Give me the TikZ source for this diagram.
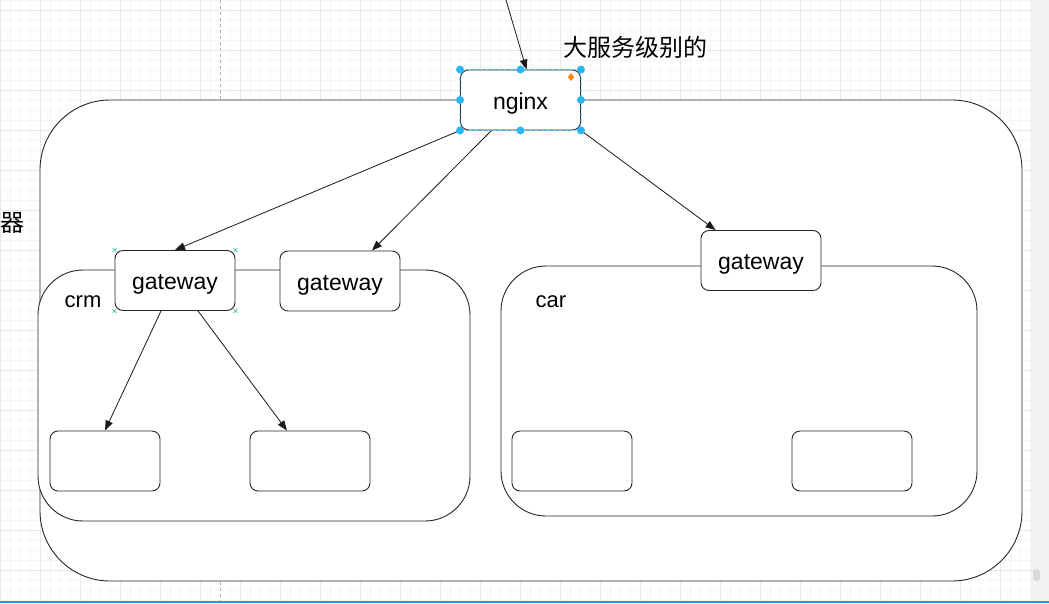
\documentclass[tikz,border=0pt]{standalone}
\usepackage{fontspec}
\setmainfont{Liberation Sans}
\newfontfamily\cjk{Noto Sans CJK SC}
\usetikzlibrary{arrows.meta}
\definecolor{handleblue}{RGB}{41,182,242}
\definecolor{markgreen}{RGB}{60,190,170}
\definecolor{barblue}{RGB}{30,155,235}

\begin{document}
\begin{tikzpicture}[x=1pt,y=-1pt,
   gridminor/.style={draw=black!4, line width=0.6pt},
   gridmajor/.style={draw=black!9, line width=0.8pt},
   zone/.style={draw=black!85, fill=white, line width=0.9pt, inner sep=0pt},
   box/.style={draw=black!85, fill=white, line width=0.9pt, rounded corners=8pt,
      minimum width=120pt, minimum height=60pt, inner sep=0pt,
      text height=21pt, text depth=2.5pt,
      font=\fontsize{23}{26}\selectfont},
   label/.style={font=\fontsize{22}{26}\selectfont},
   link/.style={-{Triangle[length=10pt,width=7.5pt]}, line width=0.8pt, black!90}]
   %% 畫布大小 與 背景格線
   \useasboundingbox (0,0) rectangle (1049,603);
   \foreach \gx in {0,10,...,1040} \draw[gridminor] (\gx,0) -- (\gx,603);
   \foreach \gy in {0,10,...,600} \draw[gridminor] (0,\gy) -- (1049,\gy);
   \foreach \gx in {0,40,...,1040} \draw[gridmajor] (\gx,0) -- (\gx,603);
   \foreach \gy in {10,50,...,570} \draw[gridmajor] (0,\gy) -- (1049,\gy);
   \draw[black!30, dashed, line width=1pt] (220,0) -- (220,603);
   \fill[black!5] (1031,0) rectangle (1049,601);
   \fill[black!15, rounded corners=3pt] (1033,569) rectangle (1040,581);
   \fill[barblue] (0,601) rectangle (1049,603);
   
   %% 外層 大服務 與 兩個服務區塊
   \node[zone, rounded corners=70pt, minimum width=982pt, minimum height=481pt] (outer) at (531,340.5) {};
   \node[zone, rounded corners=45pt, minimum width=432pt, minimum height=251pt] (crm) at (254,395.5) {};
   \node[zone, rounded corners=45pt, minimum width=476pt, minimum height=250pt] (car) at (739,391) {};
   
   \node[box] (nginx) at (520.5,100) {nginx};
   \node[box] (crmgw) at (175,280.5) {gateway};
   \node[box] (crmgwb) at (340,281) {gateway};
   \node[box] (cargw) at (761,260.5) {gateway};
   
   \node[box, minimum width=110pt] (crmA) at (105,461) {};
   \node[box] (crmB) at (310,461) {};
   \node[box] (carA) at (572,461) {};
   \node[box] (carB) at (852,461) {};
   
   \node[label] (crmlabel) at (83,302) {crm};
   \node[label] (carlabel) at (551,302) {car};
   \node[font=\cjk\fontsize{24}{27}\selectfont] (title) at (635,47) {大服务级别的};
   \node[font=\cjk\fontsize{24}{27}\selectfont] (side) at (12,223) {器};
   
   %% 連線
   \coordinate (entry) at (506,0);
   \draw[link] (entry) -- ([xshift=6pt]nginx.north);
   \draw[link] (nginx.south west) -- (crmgw.north);
   \draw[link] ([xshift=-29pt]nginx.south) -- ([xshift=32pt]crmgwb.north);
   \draw[link] (nginx.south east) -- ([xshift=15pt]cargw.north west);
   \draw[link] ([xshift=-14pt]crmgw.south) -- (crmA.north);
   \draw[link] ([xshift=23pt]crmgw.south) -- ([xshift=-23pt]crmB.north);
   
   %% 選取中的 nginx 控制點
   \draw[handleblue, dashed, line width=0.7pt, rounded corners=8pt] (nginx.south west) rectangle (nginx.north east);
   \foreach \a in {north west,north,north east,east,south east,south,south west,west}
   {
       \fill[handleblue] (nginx.\a) circle (4pt);
   };
   \fill[orange] (571,73) -- (574,77) -- (571,81) -- (568,77) -- cycle;
   \foreach \a in {north west,north east,south east,south west}
   {
       \draw[markgreen, line width=0.6pt] ([shift={(-2pt,-2pt)}]crmgw.\a) -- ([shift={(2pt,2pt)}]crmgw.\a)
          ([shift={(-2pt,2pt)}]crmgw.\a) -- ([shift={(2pt,-2pt)}]crmgw.\a);
   };
   
\end{tikzpicture}
\end{document}
